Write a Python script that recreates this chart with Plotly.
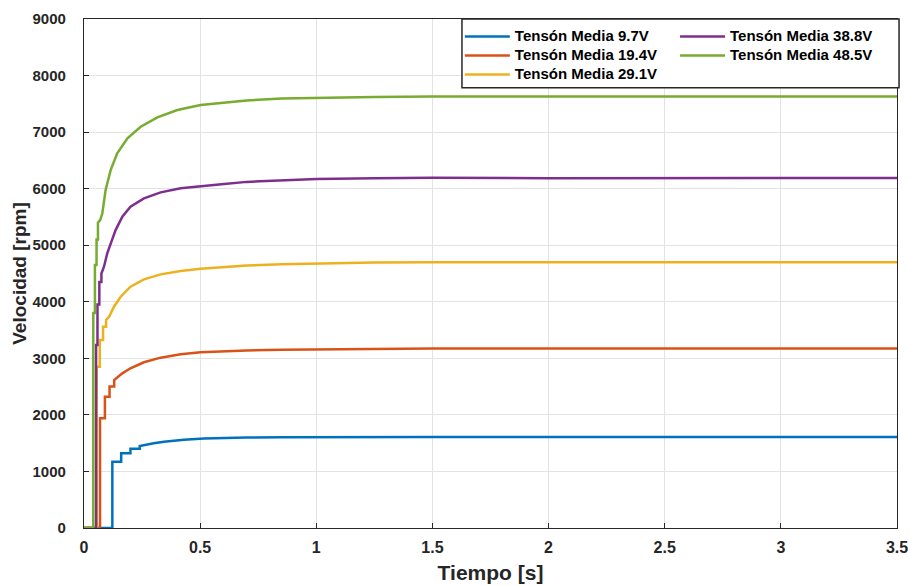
import plotly.graph_objects as go

# ---- data ----
t_97 = [0, 0.122, 0.122, 0.16, 0.16, 0.2, 0.2, 0.24, 0.24, 0.272, 0.3, 0.344, 0.43, 0.517, 0.603, 0.7, 0.85, 1.0, 1.5, 2.0, 2.5, 3.0, 3.5]
v_97 = [0, 0, 1172, 1172, 1321, 1321, 1400, 1400, 1450, 1480, 1500, 1526, 1562, 1582, 1594, 1600, 1605, 1608, 1610, 1610, 1610, 1610, 1610]

t_194 = [0, 0.069, 0.069, 0.09, 0.09, 0.11, 0.11, 0.13, 0.13, 0.15, 0.165, 0.2, 0.258, 0.33, 0.416, 0.502, 0.603, 0.7, 0.85, 1.0, 1.25, 1.5, 2.0, 2.5, 3.0, 3.5]
v_194 = [0, 0, 1940, 1940, 2322, 2322, 2500, 2500, 2617, 2680, 2735, 2824, 2930, 3012, 3071, 3106, 3125, 3140, 3152, 3160, 3170, 3175, 3175, 3178, 3175, 3175]

t_291 = [0, 0.055, 0.055, 0.068, 0.068, 0.082, 0.082, 0.095, 0.095, 0.108, 0.129, 0.158, 0.2, 0.258, 0.33, 0.416, 0.502, 0.603, 0.7, 0.85, 1.0, 1.25, 1.5, 2.0, 2.5, 3.0, 3.5]
v_291 = [0, 0, 2852, 2852, 3324, 3324, 3559, 3559, 3680, 3736, 3913, 4090, 4267, 4397, 4485, 4544, 4585, 4612, 4640, 4665, 4680, 4693, 4700, 4700, 4700, 4700, 4700]

t_388 = [0, 0.052, 0.052, 0.058, 0.058, 0.066, 0.066, 0.075, 0.075, 0.086, 0.1, 0.115, 0.136, 0.165, 0.2, 0.258, 0.33, 0.416, 0.502, 0.603, 0.7, 0.85, 1.0, 1.25, 1.5, 2.0, 2.5, 3.0, 3.5]
v_388 = [0, 0, 3235, 3235, 3950, 3950, 4350, 4350, 4500, 4620, 4856, 5034, 5268, 5504, 5681, 5828, 5934, 6006, 6046, 6082, 6120, 6150, 6170, 6185, 6192, 6185, 6190, 6190, 6190]

t_485 = [0, 0.04, 0.04, 0.047, 0.047, 0.054, 0.054, 0.06, 0.06, 0.07, 0.079, 0.086, 0.093, 0.115, 0.143, 0.187, 0.244, 0.316, 0.402, 0.502, 0.603, 0.7, 0.85, 1.0, 1.25, 1.5, 2.0, 2.5, 3.0, 3.5]
v_485 = [0, 0, 3800, 3800, 4650, 4650, 5100, 5100, 5400, 5450, 5565, 5800, 5976, 6330, 6625, 6890, 7095, 7262, 7390, 7478, 7519, 7560, 7595, 7610, 7622, 7630, 7630, 7630, 7630, 7630]

names = ["Tensón Media 9.7V", "Tensón Media 19.4V", "Tensón Media 29.1V",
         "Tensón Media 38.8V", "Tensón Media 48.5V"]
colors = ["#0072BD", "#D95319", "#EDB120", "#7E2F8E", "#77AC30"]
series = [(t_97, v_97), (t_194, v_194), (t_291, v_291), (t_388, v_388), (t_485, v_485)]
legends = ["legend", "legend", "legend", "legend2", "legend2"]

x_ticks = [0, 0.5, 1, 1.5, 2, 2.5, 3, 3.5]
x_ticklabels = ["0", "0.5", "1", "1.5", "2", "2.5", "3", "3.5"]
y_ticks = list(range(0, 9001, 1000))

FONT = "Liberation Sans, Arial, sans-serif"
TXT = "#262626"

fig = go.Figure()
for (t, v), n, c, lg in zip(series, names, colors, legends):
    fig.add_trace(go.Scatter(x=t, y=v, mode="lines",
                             name='<span style="font-size:15px">' + n + '</span>',
                             legend=lg, line=dict(color=c, width=2.5)))

axis_common = dict(showline=True, linecolor=TXT, linewidth=1.2, mirror=True,
                   ticks="inside", ticklen=5, tickcolor=TXT, automargin=False,
                   showgrid=True, gridcolor="#e3e3e3", gridwidth=1, zeroline=False)

legend_font = dict(family=FONT, size=12.0, color="#000000", weight="bold")

fig.update_layout(
    width=911, height=586,
    margin=dict(l=84, r=14, t=19, b=58),
    plot_bgcolor="white", paper_bgcolor="white",
    font=dict(family=FONT, color=TXT),
    xaxis=dict(range=[0, 3.5], tickvals=x_ticks, ticktext=x_ticklabels,
               ticklabelstandoff=5,
               tickfont=dict(family=FONT, size=16, color=TXT, weight="bold"),
               title=dict(text="Tiempo [s]", font=dict(family=FONT, size=21, color=TXT, weight="bold"), standoff=10),
               **axis_common),
    yaxis=dict(range=[0, 9000], tickvals=y_ticks, ticklabelstandoff=14,
               tickfont=dict(family=FONT, size=15, color=TXT, weight="bold"),
               title=dict(text="Velocidad [rpm]", font=dict(family=FONT, size=19, color=TXT, weight="bold"), standoff=0),
               **axis_common),
    legend=dict(x=0.4623, y=0.994, xanchor="left", yanchor="top",
                bgcolor="rgba(0,0,0,0)", borderwidth=0, itemwidth=45,
                tracegroupgap=0, font=legend_font),
    legend2=dict(x=0.727, y=0.994, xanchor="left", yanchor="top",
                 bgcolor="rgba(0,0,0,0)", borderwidth=0, itemwidth=45,
                 tracegroupgap=0, font=legend_font),
    shapes=[dict(type="rect", xref="paper", yref="paper",
                 x0=0.4649, x1=1.0025, y0=0.865, y1=1.0,
                 line=dict(color=TXT, width=1.5), fillcolor="white", layer="above")],
)

fig.write_html("out.html")
